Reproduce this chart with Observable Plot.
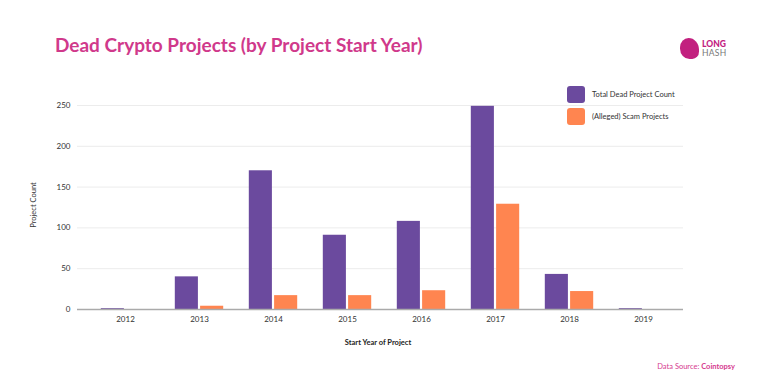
<!DOCTYPE html>
<html>
<head>
<meta charset="utf-8">
<script src="https://cdn.jsdelivr.net/npm/d3@7"></script>
<script src="https://cdn.jsdelivr.net/npm/@observablehq/plot@0.6"></script>
<style>
  html, body { margin: 0; padding: 0; background: #fff; }
  #wrap { position: relative; width: 762px; height: 389px; overflow: hidden; font-family: Lato, "Open Sans", sans-serif; }
  #chart { position: absolute; left: 0; top: 0; }
  .abs { position: absolute; white-space: nowrap; }
  #title { left: 55px; top: 33px; font-size: 19px; font-weight: 700; color: #d0398b; letter-spacing: 0; }
  .sw { width: 18px; height: 17px; border-radius: 3px; }
  .lg { font-size: 7.5px; color: #333; }
  #ytitle { left: 33px; top: 205px; font-size: 7.5px; color: #333; transform: translate(-50%, -50%) rotate(-90deg); }
  #xtitle { left: 378px; top: 342px; font-size: 7.5px; color: #222; font-weight: 700; transform: translate(-50%, -50%); }
  #src { right: 27px; top: 362px; font-size: 7.5px; color: #d63b8f; }
  #logo1 { left: 702px; top: 40px; font-size: 8.5px; line-height: 8.5px; font-weight: 900; color: #c2207f; }
  #logo2 { left: 702px; top: 49px; font-size: 8.5px; line-height: 8.5px; font-weight: 400; color: #777; letter-spacing: 0.3px; }
  #blob { left: 680px; top: 38px; width: 19px; height: 21px; background: #c2207f; border-radius: 45% 55% 35% 50%; }
</style>
</head>
<body>
<div id="wrap"></div>
<script>
const years = ["2012", "2013", "2014", "2015", "2016", "2017", "2018", "2019"];
const totalDead = [1, 40, 170, 91, 108, 249, 43, 1];
const scamProjects = [0, 4, 17, 17, 23, 129, 22, 0];
const yTicks = [0, 50, 100, 150, 200, 250];
const seriesNames = ["Total Dead Project Count", "(Alleged) Scam Projects"];
const seriesColors = ["#6b4a9e", "#ff8550"];

const totalData = years.map((y, i) => ({year: y, value: totalDead[i]}));
const scamData = years.map((y, i) => ({year: y, value: scamProjects[i]}));

const chart = Plot.plot({
  width: 762,
  height: 389,
  marginLeft: 77,
  marginRight: 79,
  marginTop: 105,
  marginBottom: 80,
  style: {fontFamily: "Lato, 'Open Sans', sans-serif", fontSize: "8px", color: "#333", background: "transparent"},
  x: {domain: years, type: "band", paddingInner: 0, paddingOuter: 0.08, align: 0.8, label: null},
  y: {domain: [0, 250], label: null},
  marks: [
    Plot.ruleY(yTicks.filter(d => d > 0), {stroke: "#ececec", strokeWidth: 1}),
    Plot.barY(totalData, {x: "year", y: "value", fill: seriesColors[0], insetLeft: 12.8, insetRight: 38.1}),
    Plot.barY(scamData, {x: "year", y: "value", fill: seriesColors[1], insetLeft: 38.1, insetRight: 12.8}),
    Plot.ruleY([0], {stroke: "#aaaaaa", strokeWidth: 1.5}),
    Plot.axisY({ticks: yTicks, tickSize: 0, tickPadding: 7, label: null, fill: "#333"}),
    Plot.axisX({tickSize: 0, tickPadding: 7, label: null, fill: "#333"})
  ]
});
chart.id = "chart";

const wrap = document.getElementById("wrap");
wrap.appendChild(chart);

function add(id, cls, html, style) {
  const d = document.createElement("div");
  if (id) d.id = id;
  d.className = "abs " + (cls || "");
  d.innerHTML = html;
  if (style) Object.assign(d.style, style);
  wrap.appendChild(d);
  return d;
}
add("title", "", "Dead Crypto Projects (by Project Start Year)");
add("blob", "", "");
add("logo1", "", "LONG");
add("logo2", "", "HASH");
seriesNames.forEach((name, i) => {
  add(null, "sw", "", {left: "567px", top: (86 + i * 22) + "px", background: seriesColors[i]});
  add(null, "lg", name, {left: "592px", top: (90 + i * 22) + "px"});
});
add("ytitle", "", "Project Count");
add("xtitle", "", "Start Year of Project");
add("src", "", "Data Source: <b>Cointopsy</b>");
</script>
</body>
</html>
